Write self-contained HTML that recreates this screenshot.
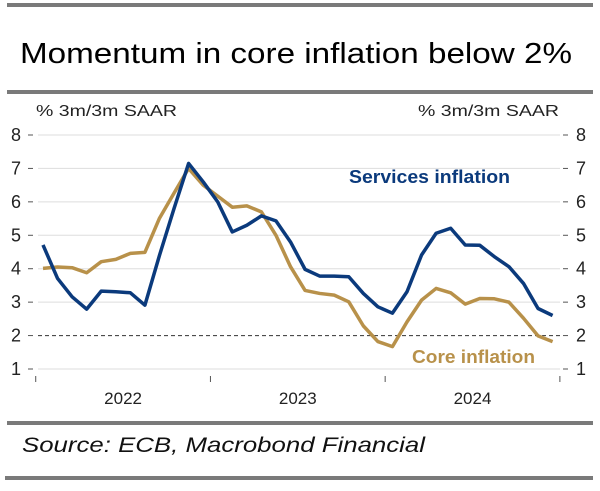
<!DOCTYPE html>
<html><head><meta charset="utf-8"><style>
body{margin:0;background:#fff;width:600px;height:491px;overflow:hidden;font-family:"Liberation Sans",sans-serif}
svg{display:block}
</style></head><body>
<svg id="c" width="600" height="491">
<rect x="7" y="3" width="586" height="4" fill="#7a7a7a"/>
<text x="20" y="63" font-size="29" fill="#000" textLength="552" lengthAdjust="spacingAndGlyphs">Momentum  in core inflation below 2%</text>
<rect x="7" y="90" width="586" height="4" fill="#7a7a7a"/>
<text x="36" y="116" font-size="16" fill="#222" textLength="141" lengthAdjust="spacingAndGlyphs">% 3m/3m SAAR</text>
<text x="418" y="116" font-size="16" fill="#222" textLength="141" lengthAdjust="spacingAndGlyphs">% 3m/3m SAAR</text>
<g id="grid"></g><g id="series"></g>
<text x="349" y="183" font-size="18" font-weight="bold" fill="#0b3a7c" textLength="161" lengthAdjust="spacingAndGlyphs">Services inflation</text>
<text x="412" y="363" font-size="18" font-weight="bold" fill="#b8914a" textLength="123" lengthAdjust="spacingAndGlyphs">Core inflation</text>
<rect x="7" y="421" width="586" height="4" fill="#7a7a7a"/>
<text x="22" y="452" font-size="21" font-style="italic" fill="#111" textLength="403" lengthAdjust="spacingAndGlyphs">Source: ECB, Macrobond Financial</text>
<rect x="5" y="476" width="588" height="4" fill="#7a7a7a"/>
</svg>
<script>
const yTicks=[1,2,3,4,5,6,7,8];
const years=["2022","2023","2024"];
const services=[4.71,3.71,3.16,2.79,3.33,3.31,3.28,2.91,4.4,5.8,7.15,6.6,6.0,5.1,5.3,5.58,5.43,4.8,3.98,3.78,3.78,3.76,3.26,2.86,2.67,3.31,4.41,5.06,5.21,4.71,4.7,4.36,4.06,3.56,2.81,2.6];
const core=[4.01,4.05,4.03,3.88,4.21,4.28,4.46,4.49,5.51,6.26,7.0,6.5,6.17,5.84,5.88,5.7,5.0,4.06,3.35,3.26,3.21,3.01,2.29,1.82,1.67,2.41,3.06,3.41,3.28,2.94,3.11,3.1,3.0,2.52,1.99,1.82];
const NS="http://www.w3.org/2000/svg";
const y=v=>369-(v-1)*33.43;
const x=i=>43+i*14.56;
function mk(t,a,p){const e=document.createElementNS(NS,t);for(const k in a)e.setAttribute(k,a[k]);p.appendChild(e);return e;}
const g=document.getElementById('grid');
yTicks.forEach(v=>{
  const l=mk('line',{x1:38,x2:560,y1:y(v),y2:y(v),stroke:v===2?'#333':'#ddd','stroke-width':1,'stroke-dasharray':v===2?'4,3':'none'},g);
  
  
  const a=mk('text',{x:16,y:y(v)+6,'font-size':18,fill:'#222','text-anchor':'middle'},g);a.textContent=v;
  
  
  const b=mk('text',{x:581,y:y(v)+6,'font-size':18,fill:'#222','text-anchor':'middle'},g);b.textContent=v;
  
  
  mk('line',{x1:28,x2:33,y1:y(v),y2:y(v),stroke:'#555'},g);
  mk('line',{x1:563,x2:568,y1:y(v),y2:y(v),stroke:'#555'},g);
});
for(let k=0;k<=years.length;k++){
  const tx=x(-0.5+12*k);
  const t=mk('line',{x1:tx,x2:tx,y1:376,y2:382,stroke:'#555'},g);
  
  
  if(k<years.length){
    const lb=mk('text',{x:x(5.5),y:404,'font-size':17,fill:'#222','text-anchor':'middle'},g);
    lb.setAttribute('x',x(5.5+12*k));
    lb.textContent=years[k];
    
    
  }
}
const s=document.getElementById('series');
[[core,'#b8914a','core-inflation-line'],[services,'#0b3a7c','services-inflation-line']].forEach(([d,c,n])=>{
  const p=mk('polyline',{points:d.map((v,i)=>x(i)+','+y(v)).join(' '),fill:'none',stroke:c,'stroke-width':3.5,'stroke-linejoin':'round'},s);
  
  
});
</script>
</body></html>
